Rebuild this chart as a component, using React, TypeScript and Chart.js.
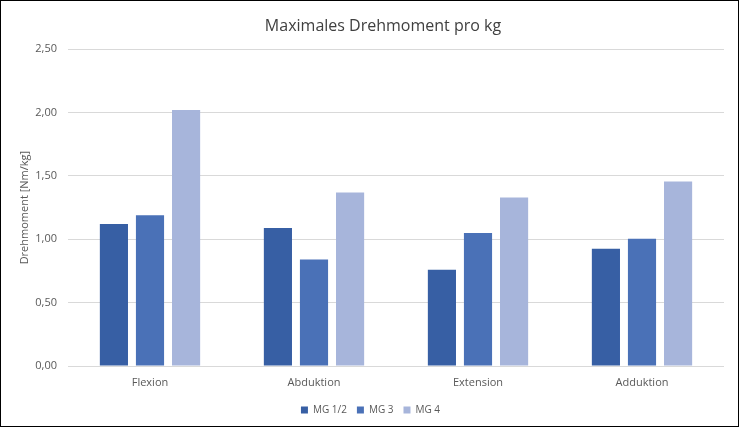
import React, { useEffect, useRef } from "react";
import { Chart, registerables } from "chart.js";

Chart.register(...registerables);

const categories = ["Flexion", "Abduktion", "Extension", "Adduktion"];
const seriesNames = ["MG 1/2", "MG 3", "MG 4"];
const mg12 = [1.12, 1.09, 0.76, 0.925];
const mg3 = [1.19, 0.84, 1.05, 1.005];
const mg4 = [2.02, 1.37, 1.33, 1.455];
const colors = ["#375FA4", "#4A71B7", "#A7B5DB"];
const titleText = "Maximales Drehmoment pro kg";
const yTitle = "Drehmoment [Nm/kg]";

const FONT = "'Open Sans', 'Noto Sans', sans-serif";

const titlePlugin = {
  id: "offsetTitle",
  afterLayout(chart: any) {
    if (chart.legend) {
      chart.legend.left += 8;
      chart.legend.right += 8;
    }
  },
  afterDraw(chart: any) {
    const t = chart.titleBlock;
    if (!t) return;
    const c = chart.ctx;
    c.save();
    c.font = `16px ${FONT}`;
    c.fillStyle = "#404040";
    c.textAlign = "center";
    c.textBaseline = "middle";
    c.fillText(titleText, 382, t.top + 16 + 9.6);
    c.restore();
  },
};

export default function App() {
  const ref = useRef<HTMLCanvasElement | null>(null);
  useEffect(() => {
    document.body.style.margin = "0";
    const ctx = ref.current!;
    const chart = new Chart(ctx, {
      type: "bar",
      data: {
        labels: categories,
        datasets: [mg12, mg3, mg4].map((d, i) => ({
          label: seriesNames[i],
          data: d,
          backgroundColor: colors[i],
          borderWidth: 0,
          categoryPercentage: 0.66,
          barPercentage: 0.78,
        })),
      },
      plugins: [titlePlugin],
      options: {
        animation: false,
        responsive: false,
        maintainAspectRatio: false,
        layout: { padding: { left: 0, right: 14, top: 0, bottom: 1 } },
        plugins: {
          tooltip: { enabled: false },
          title: {
            display: true,
            text: titleText,
            color: "rgba(0,0,0,0)",
            font: { family: FONT, size: 16, weight: "normal" },
            padding: { top: 16, bottom: 13 },
          },
          legend: {
            position: "bottom",
            labels: {
              boxWidth: 7,
              boxHeight: 7,
              padding: 10,
              color: "#595959",
              font: { family: FONT, size: 10 },
            },
          },
        },
        scales: {
          x: {
            grid: { display: false, drawTicks: false },
            border: { display: false },
            ticks: { color: "#595959", padding: 10, font: { family: FONT, size: 11 } },
            afterFit: (s: any) => { s.height = 29; },
          },
          y: {
            min: 0,
            max: 2.5,
            ticks: {
              stepSize: 0.5,
              padding: 11,
              color: "#595959",
              font: { family: FONT, size: 11 },
              callback: (v: any) => Number(v).toFixed(2).replace(".", ","),
            },
            grid: { color: "#D9D9D9", drawTicks: false },
            border: { display: false },
            title: {
              display: true,
              text: yTitle,
              color: "#595959",
              font: { family: FONT, size: 11 },
              padding: { top: 17, bottom: 0 },
            },
            afterFit: (s: any) => { s.width = 67; },
          },
        },
      },
    });
    return () => chart.destroy();
  }, []);
  return (
    <div
      style={{
        position: "fixed",
        left: 0,
        top: 0,
        width: 739,
        height: 427,
        boxSizing: "border-box",
        border: "1px solid #000",
        background: "#fff",
      }}
    >
      <canvas ref={ref} width={737} height={425} style={{ display: "block" }} />
    </div>
  );
}
